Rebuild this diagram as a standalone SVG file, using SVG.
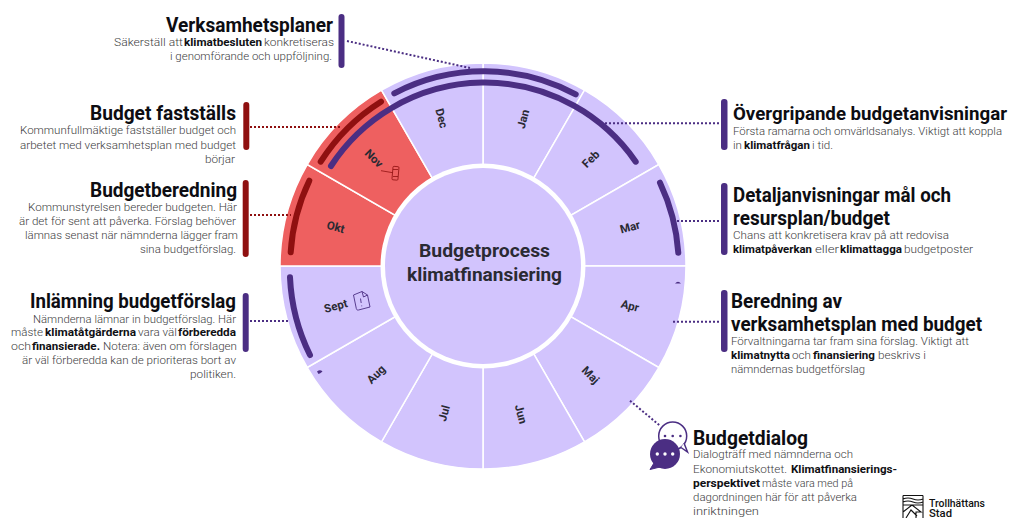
<svg xmlns="http://www.w3.org/2000/svg" width="1010" height="518" viewBox="0 0 1010 518">
<style>
text{font-family:Roboto,"Liberation Sans",sans-serif}
.t{font-size:20px;font-weight:700;fill:#0d0d12}
.b{font-size:11px;font-weight:300;fill:#3c3c40;letter-spacing:0}
.s{font-size:11px;font-weight:700;fill:#101014}
.m{font-size:11.5px;font-weight:700;fill:#2a2a33;text-anchor:middle;dominant-baseline:central}
.c{font-size:18.5px;font-weight:700;fill:#2a2a33}
.sec{fill:#d2c4fd;stroke:#fff;stroke-width:1.5}
.red{fill:#ee6060}
.arc{fill:none;stroke:#4b2e83;stroke-width:6;stroke-linecap:round}
.arcr{fill:none;stroke:#8f1010;stroke-width:6;stroke-linecap:round}
.bar{fill:#4b2e83}
.barr{fill:#8f1010}
.dot{fill:none;stroke:#4b2e83;stroke-width:2;stroke-dasharray:2 2}
.dotr{fill:none;stroke:#8f1010;stroke-width:2;stroke-dasharray:2 2}
</style>
<g id="wheel">
<path class="sec" d="M483 266V63A203 203 0 0 1 584.500 90.200Z"/>
<path class="sec" d="M483 266L584.500 90.200A203 203 0 0 1 658.800 164.500Z"/>
<path class="sec" d="M483 266L658.800 164.500A203 203 0 0 1 686 266Z"/>
<path class="sec" d="M483 266H686A203 203 0 0 1 658.800 367.500Z"/>
<path class="sec" d="M483 266L658.800 367.500A203 203 0 0 1 584.500 441.800Z"/>
<path class="sec" d="M483 266L584.500 441.800A203 203 0 0 1 483 469Z"/>
<path class="sec" d="M483 266V469A203 203 0 0 1 381.500 441.800Z"/>
<path class="sec" d="M483 266L381.500 441.800A203 203 0 0 1 307.200 367.500Z"/>
<path class="sec" d="M483 266L307.200 367.500A203 203 0 0 1 280 266Z"/>
<path class="sec red" d="M483 266H280A203 203 0 0 1 307.200 164.500Z"/>
<path class="sec red" d="M483 266L307.200 164.500A203 203 0 0 1 381.500 90.200Z"/>
<path class="sec" d="M483 266L381.500 90.200A203 203 0 0 1 483 63Z"/>
<circle cx="483" cy="266" r="102.500" fill="#fff"/>
<circle cx="483" cy="266" r="98" fill="#d2c4fd"/>
<text class="c" x="419" y="257" textLength="131" lengthAdjust="spacingAndGlyphs">Budgetprocess</text>
<text class="c" x="407" y="281" textLength="155" lengthAdjust="spacingAndGlyphs">klimatfinansiering</text>
<text class="m" transform="translate(523 119) rotate(-75)">Jan</text>
<text class="m" transform="translate(590.700 159) rotate(-45)">Feb</text>
<text class="m" transform="translate(630 227) rotate(-15)">Mar</text>
<text class="m" transform="translate(630 305.700) rotate(15)">Apr</text>
<text class="m" transform="translate(590.700 375) rotate(45)">Maj</text>
<text class="m" transform="translate(521 414) rotate(75)">Jun</text>
<text class="m" transform="translate(444 413.300) rotate(-75)">Jul</text>
<text class="m" transform="translate(376 374.300) rotate(-45)">Aug</text>
<text class="m" transform="translate(335.700 306) rotate(-15)">Sept</text>
<text class="m" transform="translate(335.700 227) rotate(15)">Okt</text>
<text class="m" transform="translate(374 158.300) rotate(45)">Nov</text>
<text class="m" transform="translate(441.700 118.300) rotate(75)">Dec</text>
<path d="M381 170.700L392.700 172.700" fill="none" stroke="#8f1010" stroke-width="0.8"/>
<rect x="392.500" y="166.500" width="6" height="13.500" rx="1" transform="rotate(5 395.500 173)" fill="none" stroke="#8f1010" stroke-width="0.8"/>
<path d="M393 169.500H398M393 176.500H398" stroke="#8f1010" stroke-width="0.8" fill="none"/>
<path d="M353.500 295L362 291.500L367.500 295L370 307L358.500 310C357 310.300 356.500 309.500 356.300 308.500Z M362 291.500L363.500 297L367.500 295" fill="none" stroke="#4b2e83" stroke-width="0.9"/>
<path d="M360.500 298.500L361.200 303M361.700 305.500V306.300" fill="none" stroke="#4b2e83" stroke-width="0.9"/>
<path class="arc" d="M394.300 93.300A194 194 0 0 1 575.700 94.300"/>
<path class="arc" d="M331 166A183.500 183.500 0 0 1 635.700 161.700"/>
<path class="arcr" d="M381 101.700A193 193 0 0 0 320.700 161.700"/>
<path class="arcr" d="M309.300 180.700A193 193 0 0 0 290.700 252.300"/>
<path class="arc" d="M660 182.700A195.500 195.500 0 0 1 678.300 252.700"/>
<path class="arc" d="M290 277.300A195.500 195.500 0 0 0 310 355"/>
<path d="M317 371.500Q320 369 322.500 371.500Q320 373.500 318.500 374Z" fill="#4b2e83"/>
<path d="M675 283.500Q678 280 681 283.500Z" fill="#4b2e83"/>
</g>
<g id="connectors">
<path class="dot" d="M347 41L470 68"/>
<path class="dot" d="M605 123.300H722"/>
<path class="dot" d="M677 221H722"/>
<path class="dot" d="M673 321.700H722"/>
<path class="dot" d="M630 400.700L660 425.700"/>
<path class="dotr" d="M250 127H342"/>
<path class="dotr" d="M250 215H291"/>
<path class="dot" d="M250 321H290"/>
</g>
<g id="verksamhetsplaner">
<rect class="bar" x="338.500" y="14" width="6" height="54" rx="3"/>
<text class="t" x="166" y="32" textLength="167" lengthAdjust="spacingAndGlyphs">Verksamhetsplaner</text>
<text class="b" x="114" y="46" textLength="69" lengthAdjust="spacingAndGlyphs">Säkerställ att</text>
<text class="s" x="184" y="46" textLength="78" lengthAdjust="spacingAndGlyphs">klimatbesluten</text>
<text class="b" x="264" y="46" textLength="70" lengthAdjust="spacingAndGlyphs">konkretiseras</text>
<text class="b" x="170" y="60" textLength="162" lengthAdjust="spacingAndGlyphs">i genomförande och uppföljning.</text>
</g>
<g id="budget-faststalls">
<rect class="barr" x="243.300" y="102" width="6" height="48" rx="3"/>
<text class="t" x="90" y="120" textLength="146" lengthAdjust="spacingAndGlyphs">Budget fastställs</text>
<text class="b" x="20" y="134" textLength="216" lengthAdjust="spacingAndGlyphs">Kommunfullmäktige fastställer budget och</text>
<text class="b" x="20" y="149" textLength="216" lengthAdjust="spacingAndGlyphs">arbetet med verksamhetsplan med budget</text>
<text class="b" x="205" y="163" textLength="30" lengthAdjust="spacingAndGlyphs">börjar</text>
</g>
<g id="budgetberedning">
<rect class="barr" x="242.700" y="180" width="6" height="77" rx="3"/>
<text class="t" x="90" y="197" textLength="147" lengthAdjust="spacingAndGlyphs">Budgetberedning</text>
<text class="b" x="28" y="211" textLength="209" lengthAdjust="spacingAndGlyphs">Kommunstyrelsen bereder budgeten. Här</text>
<text class="b" x="19" y="225" textLength="217" lengthAdjust="spacingAndGlyphs">är det för sent att påverka. Förslag behöver</text>
<text class="b" x="25" y="239" textLength="213" lengthAdjust="spacingAndGlyphs">lämnas senast när nämnderna lägger fram</text>
<text class="b" x="140" y="253" textLength="96" lengthAdjust="spacingAndGlyphs">sina budgetförslag.</text>
</g>
<g id="inlamning">
<rect class="bar" x="242.700" y="293" width="6" height="59" rx="3"/>
<text class="t" x="30" y="308" textLength="206" lengthAdjust="spacingAndGlyphs">Inlämning budgetförslag</text>
<text class="b" x="33" y="323" textLength="203" lengthAdjust="spacingAndGlyphs">Nämnderna lämnar in budgetförslag. Här</text>
<text class="b" x="11" y="336" textLength="32" lengthAdjust="spacingAndGlyphs">måste</text>
<text class="s" x="45" y="336" textLength="91" lengthAdjust="spacingAndGlyphs">klimatåtgärderna</text>
<text class="b" x="138" y="336" textLength="39" lengthAdjust="spacingAndGlyphs">vara väl</text>
<text class="s" x="178" y="336" textLength="58" lengthAdjust="spacingAndGlyphs">förberedda</text>
<text class="b" x="11" y="350" textLength="20" lengthAdjust="spacingAndGlyphs">och</text>
<text class="s" x="32" y="350" textLength="68" lengthAdjust="spacingAndGlyphs">finansierade.</text>
<text class="b" x="103" y="350" textLength="134" lengthAdjust="spacingAndGlyphs">Notera: även om förslagen</text>
<text class="b" x="22" y="364" textLength="214" lengthAdjust="spacingAndGlyphs">är väl förberedda kan de prioriteras bort av</text>
<text class="b" x="190" y="378" textLength="46" lengthAdjust="spacingAndGlyphs">politiken.</text>
</g>
<g id="overgripande">
<rect class="bar" x="721" y="99" width="6.500" height="51" rx="3"/>
<text class="t" style="font-size:18.500px" x="733" y="120" textLength="274" lengthAdjust="spacingAndGlyphs">Övergripande budgetanvisningar</text>
<text class="b" x="733" y="135" textLength="269" lengthAdjust="spacingAndGlyphs">Första ramarna och omvärldsanalys. Viktigt att koppla</text>
<text class="b" x="733" y="149" textLength="9" lengthAdjust="spacingAndGlyphs">in</text>
<text class="s" x="744" y="149" textLength="66" lengthAdjust="spacingAndGlyphs">klimatfrågan</text>
<text class="b" x="812" y="149" textLength="21" lengthAdjust="spacingAndGlyphs">i tid.</text>
</g>
<g id="detaljanvisningar">
<rect class="bar" x="721" y="183" width="6.500" height="72" rx="3"/>
<text class="t" x="733" y="202" textLength="218" lengthAdjust="spacingAndGlyphs">Detaljanvisningar mål och</text>
<text class="t" x="733" y="225" textLength="157" lengthAdjust="spacingAndGlyphs">resursplan/budget</text>
<text class="b" x="733" y="239" textLength="216" lengthAdjust="spacingAndGlyphs">Chans att konkretisera krav på att redovisa</text>
<text class="s" x="733" y="253" textLength="79" lengthAdjust="spacingAndGlyphs">klimatpåverkan</text>
<text class="b" x="815" y="253" textLength="24" lengthAdjust="spacingAndGlyphs">eller</text>
<text class="s" x="840" y="253" textLength="62" lengthAdjust="spacingAndGlyphs">klimattagga</text>
<text class="b" x="904" y="253" textLength="69" lengthAdjust="spacingAndGlyphs">budgetposter</text>
</g>
<g id="beredning">
<rect class="bar" x="721" y="290" width="6.500" height="62" rx="3"/>
<text class="t" x="731" y="308" textLength="111" lengthAdjust="spacingAndGlyphs">Beredning av</text>
<text class="t" x="731" y="331" textLength="251" lengthAdjust="spacingAndGlyphs">verksamhetsplan med budget</text>
<text class="b" x="731" y="345" textLength="238" lengthAdjust="spacingAndGlyphs">Förvaltningarna tar fram sina förslag. Viktigt att</text>
<text class="s" x="731" y="359" textLength="59" lengthAdjust="spacingAndGlyphs">klimatnytta</text>
<text class="b" x="792" y="359" textLength="19" lengthAdjust="spacingAndGlyphs">och</text>
<text class="s" x="813" y="359" textLength="62" lengthAdjust="spacingAndGlyphs">finansiering</text>
<text class="b" x="878" y="359" textLength="48" lengthAdjust="spacingAndGlyphs">beskrivs i</text>
<text class="b" x="731" y="373" textLength="134" lengthAdjust="spacingAndGlyphs">nämndernas budgetförslag</text>
</g>
<g id="budgetdialog">
<circle cx="672.700" cy="436" r="14" fill="#fff" stroke="#4b2e83" stroke-width="1.500"/>
<path d="M681 447.500L687.500 452L684 443" fill="#fff" stroke="#4b2e83" stroke-width="1.500"/>
<circle cx="665" cy="436" r="1.300" fill="#4b2e83"/><circle cx="672.700" cy="436" r="1.300" fill="#4b2e83"/><circle cx="680.400" cy="436" r="1.300" fill="#4b2e83"/>
<circle cx="665" cy="454" r="15" fill="#4b2e83"/>
<path d="M654 463L650 469.500L660 467Z" fill="#4b2e83" stroke="#4b2e83"/>
<circle cx="657.300" cy="454" r="1.700" fill="#fff"/><circle cx="665" cy="454" r="1.700" fill="#fff"/><circle cx="672.700" cy="454" r="1.700" fill="#fff"/>
<text class="t" x="693" y="444.500" textLength="115" lengthAdjust="spacingAndGlyphs">Budgetdialog</text>
<text class="b" x="693" y="458" textLength="160" lengthAdjust="spacingAndGlyphs">Dialogträff med nämnderna och</text>
<text class="b" x="693" y="473" textLength="94" lengthAdjust="spacingAndGlyphs">Ekonomiutskottet.</text>
<text class="s" x="791" y="473" textLength="106" lengthAdjust="spacingAndGlyphs">Klimatfinansierings-</text>
<text class="s" x="693" y="487" textLength="67" lengthAdjust="spacingAndGlyphs">perspektivet</text>
<text class="b" x="762" y="487" textLength="91" lengthAdjust="spacingAndGlyphs">måste vara med på</text>
<text class="b" x="693" y="501" textLength="164" lengthAdjust="spacingAndGlyphs">dagordningen här för att påverka</text>
<text class="b" x="693" y="515" textLength="66" lengthAdjust="spacingAndGlyphs">inriktningen</text>
</g>
<g id="logo">
<path d="M903 495.500H923M903 499Q908 497 913 499T923 499M903 502Q908 500 913 502T923 502M903 505H923M903 495.500V518M923 495.500V518M903 512L912 505L921 512H916V518M906 518L911 510L917 516" fill="none" stroke="#111" stroke-width="1.100"/>
<text x="929" y="507" font-size="10" font-weight="500" fill="#111" textLength="56" lengthAdjust="spacingAndGlyphs">Trollhättans</text>
<text x="929" y="517" font-size="10" font-weight="500" fill="#111" textLength="23" lengthAdjust="spacingAndGlyphs">Stad</text>
</g>
</svg>
